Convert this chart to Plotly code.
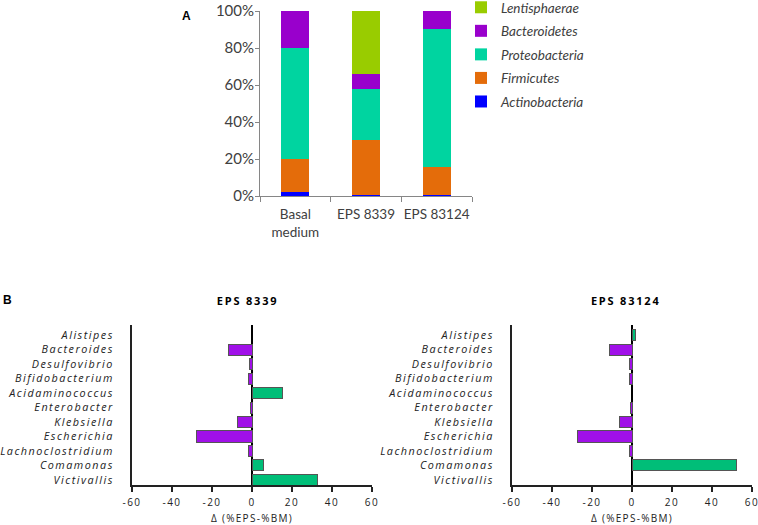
import plotly.graph_objects as go

# ---- Panel A data ----
samples = ["Basal<br>medium", "EPS 8339", "EPS 83124"]
phyla = ["Actinobacteria", "Firmicutes", "Proteobacteria", "Bacteroidetes", "Lentisphaerae"]
actinobacteria = [2.2, 0.5, 0.5]
firmicutes = [18.0, 30.0, 15.2]
proteobacteria = [59.6, 27.6, 74.4]
bacteroidetes = [20.2, 8.0, 9.9]
lentisphaerae = [0.0, 33.9, 0.0]
phylum_colors = ["#0000FF", "#E46C0A", "#00D4A0", "#9900CC", "#99CC00"]
pct_ticks = [0, 20, 40, 60, 80, 100]
pct_labels = ["0%", "20%", "40%", "60%", "80%", "100%"]

# ---- Panel B data ----
genera = ["Alistipes", "Bacteroides", "Desulfovibrio", "Bifidobacterium", "Acidaminococcus",
          "Enterobacter", "Klebsiella", "Escherichia", "Lachnoclostridium", "Comamonas", "Victivallis"]
delta_8339 = [None, -12.0, -1.2, -1.7, 15.0, -1.0, -7.5, -28.0, -1.7, 5.8, 32.5]
delta_83124 = [1.8, -11.2, -1.2, -1.3, None, -1.0, -6.5, -27.3, -1.2, 52.2, None]
x_ticks = [-60, -40, -20, 0, 20, 40, 60]
x_tick_labels = ["-60", "-40", "-20", "0", "20", "40", "60"]
pos_color = "#00BE78"
neg_color = "#A010E8"

W, H = 758, 525
fig = go.Figure()

series = [actinobacteria, firmicutes, proteobacteria, bacteroidetes, lentisphaerae]
for i, (name, vals, col) in enumerate(zip(phyla, series, phylum_colors)):
    fig.add_trace(go.Bar(x=samples, y=vals, name=name, marker=dict(color=col, line=dict(width=0)),
                         legendgroup=name, legendrank=1000 - i, xaxis="x", yaxis="y"))

def bar_colors(vals):
    return [pos_color if (v is not None and v > 0) else neg_color for v in vals]

fig.add_trace(go.Bar(y=genera, x=delta_8339, orientation="h", showlegend=False, width=0.76,
                     marker=dict(color=bar_colors(delta_8339), line=dict(color="#555555", width=1)),
                     xaxis="x2", yaxis="y2"))
fig.add_trace(go.Bar(y=genera, x=delta_83124, orientation="h", showlegend=False, width=0.76,
                     marker=dict(color=bar_colors(delta_83124), line=dict(color="#555555", width=1)),
                     xaxis="x3", yaxis="y3"))

def px(x):
    return x / W

def py(y):
    return 1 - y / H

axis_font_a = dict(family="Lato, Open Sans, sans-serif", size=15, color="#404040")
cat_font_a = dict(family="Lato, Open Sans, sans-serif", size=13.5, color="#404040")
tick_font_b = dict(family="Open Sans, sans-serif", size=10, color="#222222")
ylab_font_b = dict(family="Open Sans, sans-serif", size=10.8, color="#222222", style="italic")

common_xb = dict(range=[-60, 60], tickvals=x_ticks, ticktext=x_tick_labels, showgrid=False, zeroline=True,
                 automargin=False, zerolinecolor="#000000", zerolinewidth=1.5, showline=True,
                 linecolor="#222222", linewidth=2, ticks="outside", ticklen=5, tickwidth=1.5,
                 tickcolor="#222222", tickfont=tick_font_b, ticklabelstandoff=2,
                 title=dict(text="Δ (%EPS-%BM)", font=dict(family="Open Sans, sans-serif", size=10, color="#222222"), standoff=8))
common_yb = dict(showgrid=False, showline=True, linecolor="#222222", linewidth=2, automargin=False,
                 ticks="", range=[10.35, -0.7], type="category",
                 tickfont=ylab_font_b, ticklabelstandoff=14)

ann_common = dict(xref="paper", yref="paper", showarrow=False, xanchor="center", yanchor="middle")

fig.update_layout(
    template="none",
    width=W, height=H,
    margin=dict(l=0, r=0, t=0, b=0, autoexpand=False),
    paper_bgcolor="white", plot_bgcolor="white",
    barmode="stack", bargap=0.6,
    showlegend=True,
    legend=dict(x=px(461), y=py(-8), xanchor="left", yanchor="top",
                traceorder="grouped", tracegroupgap=3,
                font=dict(family="Lato, Open Sans, sans-serif", size=13.5, color="#404040", style="italic"),
                itemwidth=30, bgcolor="rgba(0,0,0,0)"),
    xaxis=dict(domain=[px(260), px(472)], anchor="y", showline=True, linecolor="#868686", automargin=False,
               linewidth=1, ticks="outside", tickson="boundaries", ticklen=5, tickcolor="#868686",
               showgrid=False, tickfont=cat_font_a, tickangle=0, ticklabelstandoff=6),
    yaxis=dict(domain=[py(196), py(11)], anchor="x", range=[0, 100], tickvals=pct_ticks, ticktext=pct_labels,
               showline=True, linecolor="#868686", linewidth=1, ticks="outside", automargin=False,
               ticklen=4, tickcolor="#868686", showgrid=False, tickfont=axis_font_a, zeroline=False,
               ticklabelstandoff=-2),
    xaxis2=dict(domain=[px(132), px(372)], anchor="y2", **common_xb),
    yaxis2=dict(domain=[py(485), py(325)], anchor="x2", **common_yb),
    xaxis3=dict(domain=[px(512), px(752)], anchor="y3", **common_xb),
    yaxis3=dict(domain=[py(485), py(325)], anchor="x3", **common_yb),
    annotations=[
        dict(text="<b>A</b>", x=px(186), y=py(16),
             font=dict(family="Liberation Sans, Arial", size=12, color="#000"), **ann_common),
        dict(text="<b>B</b>", x=px(7), y=py(300),
             font=dict(family="Liberation Sans, Arial", size=12, color="#000"), **ann_common),
        dict(text="<b>EPS 8339</b>", x=px(247), y=py(300),
             font=dict(family="Open Sans, sans-serif", size=11, color="#000"), **ann_common),
        dict(text="<b>EPS 83124</b>", x=px(626), y=py(300),
             font=dict(family="Open Sans, sans-serif", size=11, color="#000"), **ann_common),
    ],
)

post = """
(function(){
  document.body.style.margin = '0';
  document.body.style.padding = '0';
  var gd = document.getElementById('{plot_id}');
  function spread(){
    var groups = [['.y2tick text, .y3tick text', '1.5px'], ['.x2tick text, .x3tick text', '1.5px'],
                  ['.g-x2title text, .g-x3title text', '1.3px']];
    groups.forEach(function(g){
      gd.querySelectorAll(g[0]).forEach(function(t){ t.style.letterSpacing = g[1]; });
    });
    gd.querySelectorAll('.annotation-text').forEach(function(t){
      if (t.textContent.indexOf('EPS') === 0) { t.style.letterSpacing = '1.8px'; }
    });
  }
  spread();
  if (gd.on) { gd.on('plotly_afterplot', spread); }
  setTimeout(spread, 50);
  setTimeout(spread, 300);
})();
"""
fig.write_html("out.html", post_script=post, config={"displayModeBar": False})
